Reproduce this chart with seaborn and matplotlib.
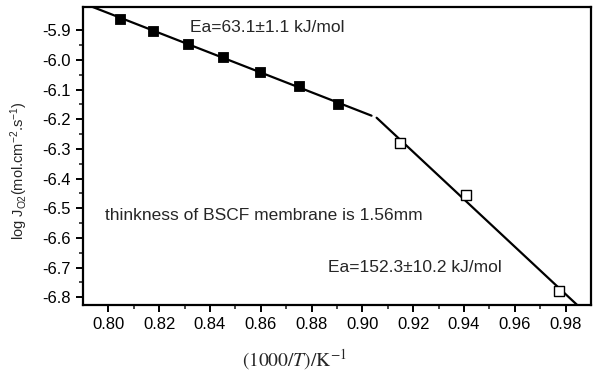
import numpy as np
import pandas as pd
import matplotlib
matplotlib.use("Agg")
import matplotlib.pyplot as plt
import seaborn as sns

# data
x_high = [0.8045, 0.8177, 0.8313, 0.8453, 0.8598, 0.8749, 0.8905]
y_high = [-5.861, -5.902, -5.945, -5.992, -6.040, -6.089, -6.150]
x_low = [0.9149, 0.9407, 0.9775]
y_low = [-6.2815, -6.455, -6.778]
fit1_range = [0.790, 0.9036]
fit2_range = [0.9056, 0.990]
x_ticks = [0.80, 0.82, 0.84, 0.86, 0.88, 0.90, 0.92, 0.94, 0.96, 0.98]
y_ticks = [-5.9, -6.0, -6.1, -6.2, -6.3, -6.4, -6.5, -6.6, -6.7, -6.8]

sns.set_style("ticks")
plt.rcParams['font.family'] = ['Liberation Sans', 'DejaVu Sans']
plt.rcParams['axes.unicode_minus'] = False
plt.rcParams['mathtext.fontset'] = 'custom'
plt.rcParams['mathtext.rm'] = 'Liberation Sans'
plt.rcParams['mathtext.it'] = 'Liberation Sans:italic'

fig = plt.figure(figsize=(6.02, 3.73), dpi=100)
ax = fig.add_axes([83/602, 1-305/373, (591-83)/602, (305-7)/373])

# fit lines
p1 = np.polyfit(x_high, y_high, 1)
p2 = np.polyfit(x_low, y_low, 1)
f1 = pd.DataFrame({"x": fit1_range, "y": np.polyval(p1, fit1_range)})
f2 = pd.DataFrame({"x": fit2_range, "y": np.polyval(p2, fit2_range)})
sns.lineplot(data=f1, x="x", y="y", ax=ax, color="black", lw=1.6)
sns.lineplot(data=f2, x="x", y="y", ax=ax, color="black", lw=1.6)

sns.scatterplot(x=x_high, y=y_high, ax=ax, marker="s", s=55, color="black",
                edgecolor="black", zorder=5)
sns.scatterplot(x=x_low, y=y_low, ax=ax, marker="s", s=55, facecolor="white",
                edgecolor="black", linewidth=1.0, zorder=5)

ax.set_xlim(0.790, 0.990)
ax.set_ylim(-6.826, -5.822)
ax.set_xticks(x_ticks)
ax.set_xticklabels([f"{v:.2f}" for v in x_ticks])
ax.set_yticks(y_ticks)
ax.set_yticklabels([f"{v:.1f}" for v in y_ticks])
ax.set_xticks(np.array(x_ticks[:-1]) + 0.01, minor=True)
ax.set_yticks(np.array(y_ticks[:-1]) - 0.05, minor=True)
ax.tick_params(axis="both", which="major", labelsize=12, width=1.4, length=5,
               direction="out", colors="black")
ax.tick_params(axis="both", which="minor", width=1.2, length=3, direction="out")
for s in ax.spines.values():
    s.set_linewidth(1.6)
    s.set_color("black")

ax.set_xlabel(r"$(1000/\mathit{T})/\mathrm{K}^{-1}$", fontsize=14,
              family="Liberation Serif")
ax.xaxis.label.set_math_fontfamily("stix")
ax.xaxis.set_label_coords((294-83)/508, -0.14)
ax.set_ylabel(r"log J$_{\mathrm{O2}}$(mol.cm$^{\mathrm{-2}}$.s$^{\mathrm{-1}}$)",
              fontsize=10.5)
ax.yaxis.set_label_coords(-0.105, 0.45)

ax.text(0.8322, -5.89, "Ea=63.1±1.1 kJ/mol", fontsize=12.5, va="center", ha="left")
ax.text(0.7988, -6.523, "thinkness of BSCF membrane is 1.56mm", fontsize=12.5,
        va="center", ha="left")
ax.text(0.8865, -6.698, "Ea=152.3±10.2 kJ/mol", fontsize=12.5, va="center", ha="left")

fig.savefig("out.png", dpi=100)
